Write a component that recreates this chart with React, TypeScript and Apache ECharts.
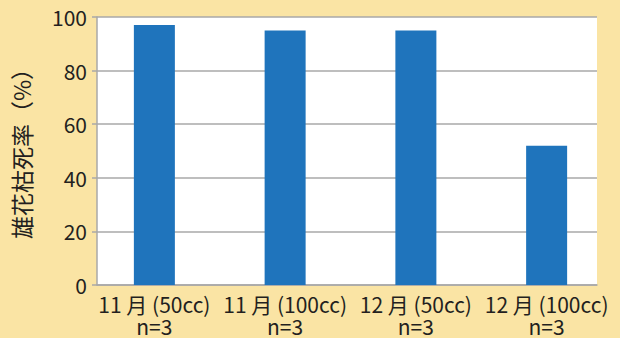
import React, { useEffect, useRef } from "react";
import * as echarts from "echarts";

const categories = ["11 月 (50cc)\nn=3", "11 月 (100cc)\nn=3", "12 月 (50cc)\nn=3", "12 月 (100cc)\nn=3"];
const deathRate = [97, 95, 95, 52];
const yTitle = "雄花枯死率（%）";

const FONT = "'Noto Sans CJK JP', 'Noto Sans', sans-serif";
const TXT = "#231F20";
const GRAY = "#A8A8A8";

export default function App() {
  const ref = useRef<HTMLDivElement>(null);
  useEffect(() => {
    if (!ref.current) return;
    const chart = echarts.init(ref.current, undefined, { renderer: "svg" });
    chart.setOption({
      animation: false,
      backgroundColor: "#FAE4A4",
      textStyle: { fontFamily: FONT },
      grid: [
        { left: 97, right: 23, top: 17, bottom: 53, show: true, backgroundColor: "#FFFFFF", borderWidth: 0 },
        { left: 89, right: 8, top: 17, bottom: 53 },
      ],
      xAxis: [
        {
          gridIndex: 0,
          type: "category",
          data: categories,
          axisLine: { show: true, lineStyle: { color: GRAY, width: 1.5 } },
          axisTick: { show: false },
          axisLabel: { show: false },
          splitLine: { show: false },
        },
        {
          gridIndex: 1,
          type: "category",
          data: categories,
          axisLine: { show: false },
          axisTick: { show: false },
          splitLine: { show: false },
          axisLabel: {
            interval: 0,
            hideOverlap: false,
            color: TXT,
            fontSize: 21,
            lineHeight: 22,
            margin: 8,
            fontFamily: FONT,
          },
        },
      ],
      yAxis: [
        {
          gridIndex: 0,
          type: "value",
          min: 0,
          max: 100,
          interval: 20,
          axisLine: { show: true, lineStyle: { color: GRAY, width: 1.5 } },
          axisTick: { show: true, inside: false, length: 5, lineStyle: { color: GRAY, width: 1.5 } },
          splitLine: { show: true, lineStyle: { color: GRAY, width: 1.5 } },
          axisLabel: { color: TXT, fontSize: 21, margin: 10, fontFamily: FONT },
          name: yTitle,
          nameLocation: "middle",
          nameRotate: 90,
          nameGap: 65,
          nameTextStyle: { color: TXT, fontSize: 23, fontFamily: FONT, padding: [0, 0, 0, 6] },
        },
        {
          gridIndex: 1,
          type: "value",
          min: 0,
          max: 100,
          show: false,
        },
      ],
      series: [
        {
          type: "bar",
          xAxisIndex: 1,
          yAxisIndex: 1,
          data: deathRate,
          barWidth: 41,
          itemStyle: { color: "#1F74BC" },
        },
      ],
    });
    return () => chart.dispose();
  }, []);
  return (
    <div
      ref={ref}
      style={{ position: "absolute", left: 0, top: 0, width: 620, height: 338 }}
    />
  );
}
